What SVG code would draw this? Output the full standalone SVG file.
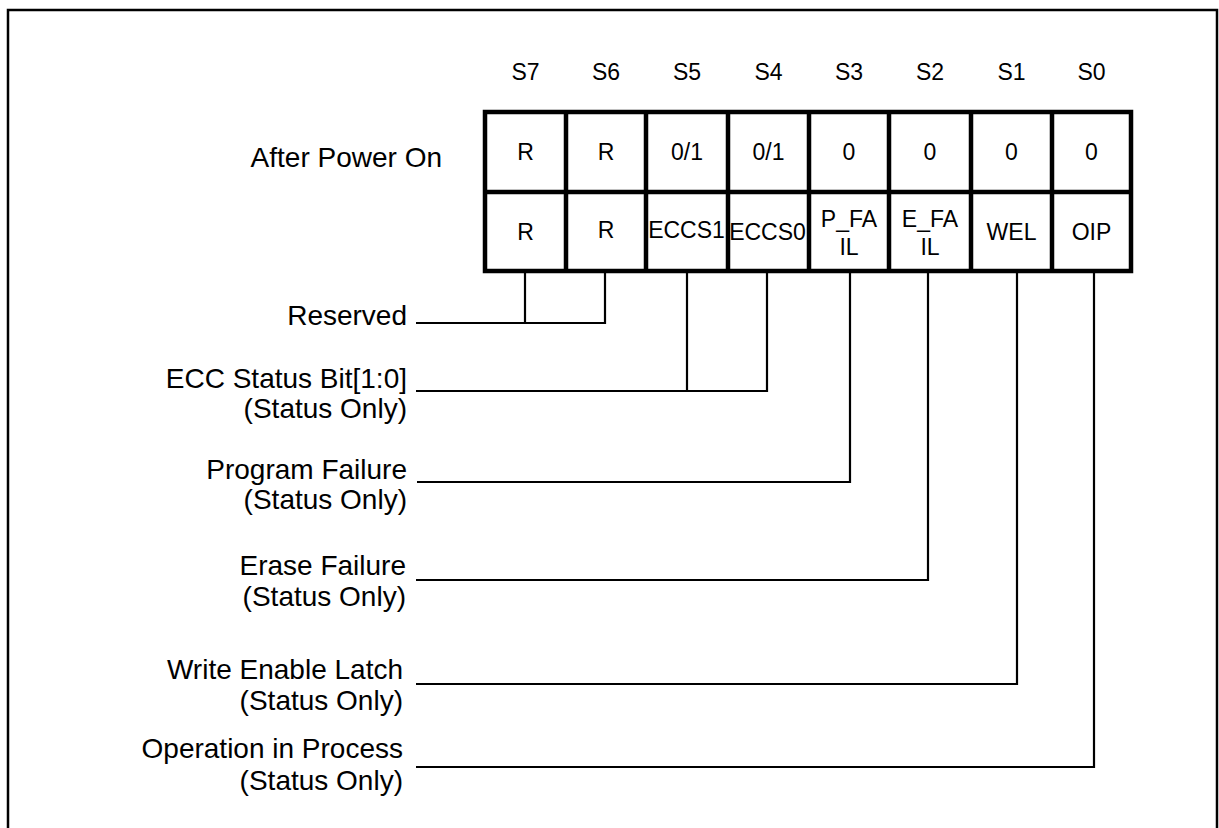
<svg xmlns="http://www.w3.org/2000/svg" width="1219" height="828" viewBox="0 0 1219 828">
<style>
  .lbl { font-family: "Liberation Sans", Arial, sans-serif; font-size: 28px; fill: #000; text-anchor: end; }
  .hdr { font-family: "Liberation Sans", Arial, sans-serif; font-size: 23px; fill: #000; text-anchor: middle; }
  .cell { font-family: "Liberation Sans", Arial, sans-serif; font-size: 23px; fill: #000; text-anchor: middle; }
  .grid { stroke: #000; stroke-width: 4.5; fill: none; }
  .conn { stroke: #000; stroke-width: 2.2; fill: none; }
</style>
<rect x="0" y="0" width="1219" height="828" fill="#fff"/>
<path d="M8,832 V10 H1217 V832" fill="none" stroke="#000" stroke-width="2.5"/>

<g id="headers">
  <text class="hdr" x="525.5" y="80">S7</text>
  <text class="hdr" x="606" y="80">S6</text>
  <text class="hdr" x="687" y="80">S5</text>
  <text class="hdr" x="768.5" y="80">S4</text>
  <text class="hdr" x="849" y="80">S3</text>
  <text class="hdr" x="930" y="80">S2</text>
  <text class="hdr" x="1011.5" y="80">S1</text>
  <text class="hdr" x="1091.5" y="80">S0</text>
</g>

<g id="register-table">
  <rect class="grid" x="485" y="112" width="646" height="159"/>
  <line class="grid" x1="485" y1="192" x2="1131" y2="192"/>
  <line class="grid" x1="566" y1="112" x2="566" y2="271"/>
  <line class="grid" x1="646" y1="112" x2="646" y2="271"/>
  <line class="grid" x1="728" y1="112" x2="728" y2="271"/>
  <line class="grid" x1="809" y1="112" x2="809" y2="271"/>
  <line class="grid" x1="889" y1="112" x2="889" y2="271"/>
  <line class="grid" x1="971" y1="112" x2="971" y2="271"/>
  <line class="grid" x1="1052" y1="112" x2="1052" y2="271"/>
  <g id="row-power-on">
    <text class="cell" x="525.5" y="160">R</text>
    <text class="cell" x="606" y="160">R</text>
    <text class="cell" x="687" y="160">0/1</text>
    <text class="cell" x="768.5" y="160">0/1</text>
    <text class="cell" x="849" y="160">0</text>
    <text class="cell" x="930" y="160">0</text>
    <text class="cell" x="1011.5" y="160">0</text>
    <text class="cell" x="1091.5" y="160">0</text>
  </g>
  <g id="row-names">
    <text class="cell" x="525.5" y="240">R</text>
    <text class="cell" x="606" y="238">R</text>
    <text class="cell" x="686.5" y="238">ECCS1</text>
    <text class="cell" x="767.5" y="240">ECCS0</text>
    <text class="cell" x="849" y="227">P_FA</text>
    <text class="cell" x="849" y="255">IL</text>
    <text class="cell" x="930" y="227">E_FA</text>
    <text class="cell" x="930" y="255">IL</text>
    <text class="cell" x="1011.5" y="240">WEL</text>
    <text class="cell" x="1091.5" y="240">OIP</text>
  </g>
</g>

<g id="label-after-power-on">
  <text class="lbl" x="442" y="167">After Power On</text>
</g>
<g id="label-reserved">
  <text class="lbl" x="407" y="325">Reserved</text>
</g>
<g id="label-ecc">
  <text class="lbl" x="407" y="388">ECC Status Bit[1:0]</text>
  <text class="lbl" x="407" y="418">(Status Only)</text>
</g>
<g id="label-program-failure">
  <text class="lbl" x="407" y="479">Program Failure</text>
  <text class="lbl" x="407" y="509">(Status Only)</text>
</g>
<g id="label-erase-failure">
  <text class="lbl" x="406" y="575">Erase Failure</text>
  <text class="lbl" x="406" y="606">(Status Only)</text>
</g>
<g id="label-wel">
  <text class="lbl" x="403" y="679">Write Enable Latch</text>
  <text class="lbl" x="403" y="710">(Status Only)</text>
</g>
<g id="label-oip">
  <text class="lbl" x="403" y="758">Operation in Process</text>
  <text class="lbl" x="403" y="790">(Status Only)</text>
</g>

<g id="connectors">
  <polyline class="conn" points="416,323 605,323 605,273"/>
  <line class="conn" x1="525" y1="273" x2="525" y2="323"/>
  <polyline class="conn" points="416,391 767,391 767,273"/>
  <line class="conn" x1="687" y1="273" x2="687" y2="391"/>
  <polyline class="conn" points="417,482 850,482 850,273"/>
  <polyline class="conn" points="416,580 928,580 928,273"/>
  <polyline class="conn" points="416,684 1017,684 1017,273"/>
  <polyline class="conn" points="416,767 1094,767 1094,273"/>
</g>
</svg>
